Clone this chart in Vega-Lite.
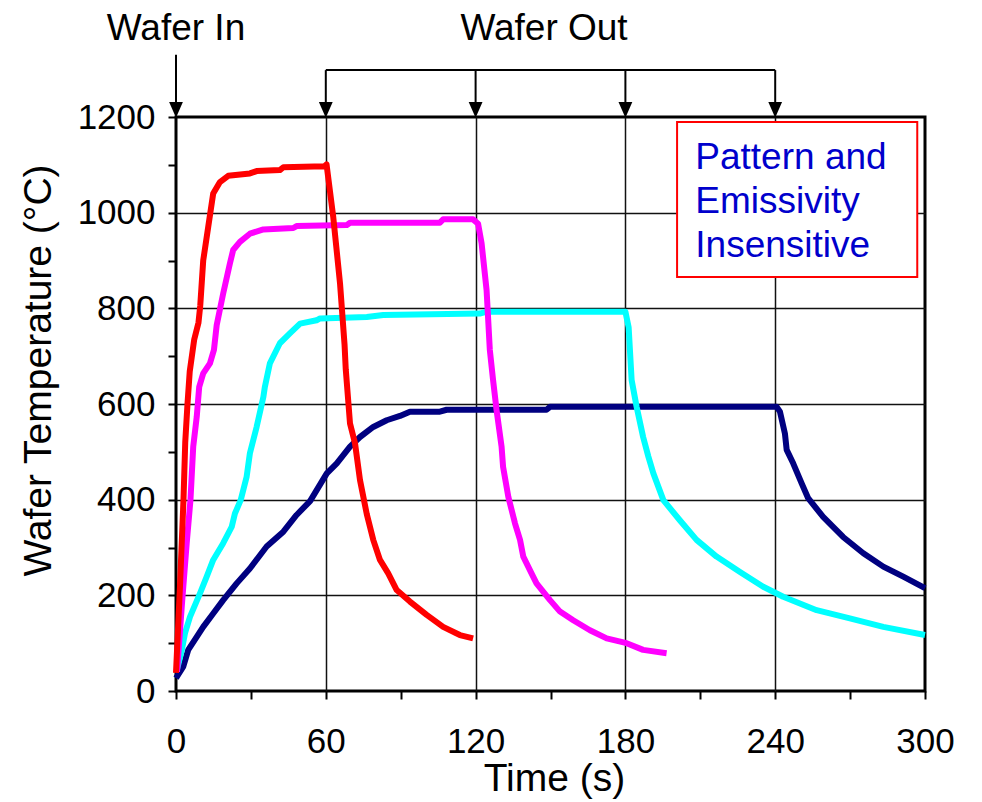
{
  "$schema": "https://vega.github.io/schema/vega-lite/v6.json",
  "width": 749,
  "height": 574,
  "autosize": {"type": "none"},
  "padding": {"left": 176, "top": 117, "right": 57, "bottom": 111},
  "background": "white",
  "config": {
    "view": {"stroke": "black", "strokeWidth": 3},
    "font": "Liberation Sans",
    "axis": {
      "labelFont": "Liberation Sans",
      "labelFontSize": 35,
      "labelColor": "black",
      "titleFont": "Liberation Sans",
      "titleFontSize": 39,
      "titleFontWeight": "normal",
      "titleColor": "black",
      "tickColor": "black",
      "tickWidth": 2,
      "tickSize": 8,
      "domain": false,
      "gridColor": "#111111",
      "gridWidth": 1.5,
      "labelOverlap": false,
      "labelBound": false,
      "labelFlush": false
    }
  },
  "datasets": {
    "profiles": [
      {"t": 0, "T": 27, "run": "590"}, {"t": 2.9, "T": 51, "run": "590"}, {"t": 4.9, "T": 86, "run": "590"}, {"t": 8.3, "T": 113, "run": "590"},
      {"t": 10.9, "T": 134, "run": "590"}, {"t": 14.9, "T": 162, "run": "590"}, {"t": 18.9, "T": 190, "run": "590"}, {"t": 24.3, "T": 225, "run": "590"},
      {"t": 29.6, "T": 256, "run": "590"}, {"t": 36.3, "T": 302, "run": "590"}, {"t": 43, "T": 333, "run": "590"}, {"t": 48.3, "T": 368, "run": "590"},
      {"t": 53.7, "T": 397, "run": "590"}, {"t": 60.4, "T": 455, "run": "590"}, {"t": 64.4, "T": 476, "run": "590"}, {"t": 69.7, "T": 511, "run": "590"},
      {"t": 73.7, "T": 531, "run": "590"}, {"t": 79, "T": 552, "run": "590"}, {"t": 84.4, "T": 566, "run": "590"}, {"t": 89.7, "T": 575, "run": "590"},
      {"t": 93.7, "T": 584, "run": "590"}, {"t": 105.7, "T": 584, "run": "590"}, {"t": 108.4, "T": 588, "run": "590"}, {"t": 148.4, "T": 588, "run": "590"},
      {"t": 149.8, "T": 594, "run": "590"}, {"t": 240.6, "T": 594, "run": "590"}, {"t": 241.9, "T": 584, "run": "590"}, {"t": 243.9, "T": 538, "run": "590"},
      {"t": 244.6, "T": 504, "run": "590"}, {"t": 247.2, "T": 476, "run": "590"}, {"t": 250.6, "T": 434, "run": "590"}, {"t": 253.2, "T": 403, "run": "590"},
      {"t": 259.2, "T": 364, "run": "590"}, {"t": 267.2, "T": 322, "run": "590"}, {"t": 275.3, "T": 288, "run": "590"}, {"t": 283.3, "T": 260, "run": "590"},
      {"t": 291.3, "T": 239, "run": "590"}, {"t": 300, "T": 215, "run": "590"},

      {"t": 0.4, "T": 45, "run": "790"}, {"t": 2.3, "T": 85, "run": "790"}, {"t": 3.6, "T": 121, "run": "790"}, {"t": 5.6, "T": 155, "run": "790"},
      {"t": 9.6, "T": 204, "run": "790"}, {"t": 12.3, "T": 239, "run": "790"}, {"t": 14.9, "T": 274, "run": "790"}, {"t": 18.9, "T": 309, "run": "790"},
      {"t": 22.3, "T": 343, "run": "790"}, {"t": 23.6, "T": 371, "run": "790"}, {"t": 25.9, "T": 399, "run": "790"}, {"t": 28.3, "T": 448, "run": "790"},
      {"t": 29.6, "T": 497, "run": "790"}, {"t": 32.3, "T": 552, "run": "790"}, {"t": 35, "T": 615, "run": "790"}, {"t": 35.6, "T": 636, "run": "790"},
      {"t": 37.6, "T": 685, "run": "790"}, {"t": 41.6, "T": 727, "run": "790"}, {"t": 45.7, "T": 748, "run": "790"}, {"t": 49.7, "T": 768, "run": "790"},
      {"t": 56.3, "T": 775, "run": "790"}, {"t": 57.7, "T": 779, "run": "790"}, {"t": 76.4, "T": 782, "run": "790"}, {"t": 83, "T": 786, "run": "790"},
      {"t": 121.7, "T": 789, "run": "790"}, {"t": 124.4, "T": 793, "run": "790"}, {"t": 180, "T": 793, "run": "790"}, {"t": 181.3, "T": 760, "run": "790"},
      {"t": 182.5, "T": 650, "run": "790"}, {"t": 184.5, "T": 594, "run": "790"}, {"t": 187.1, "T": 531, "run": "790"}, {"t": 189.2, "T": 490, "run": "790"},
      {"t": 191.2, "T": 455, "run": "790"}, {"t": 195.2, "T": 399, "run": "790"}, {"t": 201.8, "T": 357, "run": "790"}, {"t": 208.5, "T": 316, "run": "790"},
      {"t": 216.5, "T": 281, "run": "790"}, {"t": 225.9, "T": 249, "run": "790"}, {"t": 235.2, "T": 218, "run": "790"}, {"t": 243.2, "T": 197, "run": "790"},
      {"t": 256.6, "T": 169, "run": "790"}, {"t": 269.9, "T": 152, "run": "790"}, {"t": 283.3, "T": 134, "run": "790"}, {"t": 300, "T": 117, "run": "790"},

      {"t": 0.4, "T": 40, "run": "975"}, {"t": 2.5, "T": 190, "run": "975"}, {"t": 4.3, "T": 310, "run": "975"}, {"t": 5.8, "T": 400, "run": "975"},
      {"t": 6.9, "T": 511, "run": "975"}, {"t": 8.3, "T": 573, "run": "975"}, {"t": 9.3, "T": 636, "run": "975"}, {"t": 10.9, "T": 664, "run": "975"},
      {"t": 13.6, "T": 685, "run": "975"}, {"t": 15.2, "T": 713, "run": "975"}, {"t": 16.3, "T": 765, "run": "975"}, {"t": 18.9, "T": 831, "run": "975"},
      {"t": 21.6, "T": 894, "run": "975"}, {"t": 22.9, "T": 922, "run": "975"}, {"t": 25.6, "T": 939, "run": "975"}, {"t": 29.6, "T": 956, "run": "975"},
      {"t": 35, "T": 965, "run": "975"}, {"t": 47, "T": 968, "run": "975"}, {"t": 48.3, "T": 972, "run": "975"}, {"t": 68.4, "T": 974, "run": "975"},
      {"t": 69.7, "T": 979, "run": "975"}, {"t": 105.7, "T": 979, "run": "975"}, {"t": 107, "T": 986, "run": "975"}, {"t": 119, "T": 986, "run": "975"},
      {"t": 121, "T": 977, "run": "975"}, {"t": 122.4, "T": 936, "run": "975"}, {"t": 124.4, "T": 838, "run": "975"}, {"t": 125.7, "T": 713, "run": "975"},
      {"t": 127, "T": 650, "run": "975"}, {"t": 128.4, "T": 587, "run": "975"}, {"t": 130.4, "T": 511, "run": "975"}, {"t": 131, "T": 469, "run": "975"},
      {"t": 133.1, "T": 406, "run": "975"}, {"t": 135.8, "T": 350, "run": "975"}, {"t": 137.8, "T": 316, "run": "975"}, {"t": 139.1, "T": 281, "run": "975"},
      {"t": 142.4, "T": 246, "run": "975"}, {"t": 144.4, "T": 225, "run": "975"}, {"t": 149.8, "T": 190, "run": "975"}, {"t": 153.8, "T": 166, "run": "975"},
      {"t": 159.1, "T": 148, "run": "975"}, {"t": 165.8, "T": 127, "run": "975"}, {"t": 172.5, "T": 110, "run": "975"}, {"t": 180.5, "T": 100, "run": "975"},
      {"t": 187.1, "T": 86, "run": "975"}, {"t": 196.5, "T": 79, "run": "975"},

      {"t": 0, "T": 38, "run": "1100"}, {"t": 1.6, "T": 220, "run": "1100"}, {"t": 3.0, "T": 400, "run": "1100"}, {"t": 3.7, "T": 520, "run": "1100"},
      {"t": 4.6, "T": 600, "run": "1100"}, {"t": 5.5, "T": 668, "run": "1100"}, {"t": 7.3, "T": 735, "run": "1100"}, {"t": 9.0, "T": 770, "run": "1100"},
      {"t": 9.7, "T": 805, "run": "1100"}, {"t": 10.9, "T": 900, "run": "1100"}, {"t": 12.9, "T": 970, "run": "1100"}, {"t": 14.9, "T": 1040, "run": "1100"},
      {"t": 17.6, "T": 1064, "run": "1100"}, {"t": 20.9, "T": 1077, "run": "1100"}, {"t": 29.6, "T": 1082, "run": "1100"}, {"t": 32.3, "T": 1087, "run": "1100"},
      {"t": 41.6, "T": 1089, "run": "1100"}, {"t": 43, "T": 1095, "run": "1100"}, {"t": 59.5, "T": 1097, "run": "1100"}, {"t": 60.3, "T": 1101, "run": "1100"},
      {"t": 63, "T": 990, "run": "1100"}, {"t": 65.7, "T": 852, "run": "1100"}, {"t": 67.5, "T": 725, "run": "1100"}, {"t": 68, "T": 672, "run": "1100"},
      {"t": 69.7, "T": 559, "run": "1100"}, {"t": 71.7, "T": 518, "run": "1100"}, {"t": 73.7, "T": 441, "run": "1100"}, {"t": 76.4, "T": 370, "run": "1100"},
      {"t": 79, "T": 316, "run": "1100"}, {"t": 81.7, "T": 274, "run": "1100"}, {"t": 85, "T": 246, "run": "1100"}, {"t": 88.4, "T": 211, "run": "1100"},
      {"t": 93.7, "T": 187, "run": "1100"}, {"t": 100.4, "T": 159, "run": "1100"}, {"t": 107, "T": 134, "run": "1100"}, {"t": 113.7, "T": 117, "run": "1100"},
      {"t": 119, "T": 110, "run": "1100"}
    ],
    "events": [
      {"t": 0, "event": "in"},
      {"t": 60, "event": "out"},
      {"t": 120, "event": "out"},
      {"t": 180, "event": "out"},
      {"t": 240, "event": "out"}
    ],
    "single": [{}]
  },
  "layer": [
    {
      "data": {"name": "profiles"},
      "mark": {"type": "line", "strokeWidth": 6, "strokeJoin": "round"},
      "encoding": {
        "x": {
          "field": "t", "type": "quantitative",
          "scale": {"domain": [0, 300], "nice": false},
          "axis": {
            "values": [0, 30, 60, 90, 120, 150, 180, 210, 240, 270, 300],
            "format": "d",
            "labelExpr": "datum.value % 60 === 0 ? datum.label : ''",
            "labelPadding": 25,
            "labelBaseline": "top",
            "gridOpacity": {"condition": {"test": "datum.value % 60 === 0 && datum.value > 0 && datum.value < 300", "value": 1}, "value": 0},
            "title": "Time (s)",
            "titleX": 378,
            "titleY": 99,
            "titleAlign": "center",
            "titleBaseline": "alphabetic"
          }
        },
        "y": {
          "field": "T", "type": "quantitative",
          "scale": {"domain": [0, 1200], "nice": false},
          "axis": {
            "values": [0, 50, 100, 150, 200, 250, 300, 350, 400, 450, 500, 550, 600, 650, 700, 750, 800, 850, 900, 950, 1000, 1050, 1100, 1150, 1200],
            "format": "d",
            "labelExpr": "datum.value % 200 === 0 ? datum.label : ''",
            "labelPadding": 13,
            "gridOpacity": {"condition": {"test": "datum.value % 200 === 0 && datum.value > 0 && datum.value < 1200", "value": 1}, "value": 0},
            "title": "Wafer Temperature (°C)",
            "titleAngle": -90,
            "titleX": -126,
            "titleY": 253,
            "titleAlign": "center",
            "titleBaseline": "alphabetic"
          }
        },
        "color": {
          "field": "run", "type": "nominal",
          "scale": {"domain": ["590", "790", "975", "1100"], "range": ["#000080", "#00FFFF", "#FF00FF", "#FF0000"]},
          "legend": null
        },
        "strokeWidth": {
          "field": "run", "type": "nominal",
          "scale": {"domain": ["590", "790", "975", "1100"], "range": [6, 6, 6, 7]},
          "legend": null
        }
      }
    },
    {
      "data": {"name": "events"},
      "transform": [{"filter": "datum.event === 'in'"}],
      "mark": {"type": "rule", "color": "black", "strokeWidth": 2},
      "encoding": {
        "x": {"field": "t", "type": "quantitative"},
        "y": {"datum": 1226, "type": "quantitative"},
        "y2": {"datum": 1330}
      }
    },
    {
      "data": {"name": "events"},
      "transform": [{"filter": "datum.event === 'out'"}],
      "mark": {"type": "rule", "color": "black", "strokeWidth": 2},
      "encoding": {
        "x": {"field": "t", "type": "quantitative"},
        "y": {"datum": 1226, "type": "quantitative"},
        "y2": {"datum": 1298}
      }
    },
    {
      "data": {"name": "single"},
      "mark": {"type": "rule", "color": "black", "strokeWidth": 2},
      "encoding": {
        "x": {"datum": 60, "type": "quantitative"},
        "x2": {"datum": 240},
        "y": {"datum": 1298, "type": "quantitative"}
      }
    },
    {
      "data": {"name": "events"},
      "mark": {"type": "point", "shape": "M-1,-1.15L1,-1.15L0,1.15Z", "filled": true, "color": "black", "opacity": 1, "size": 190},
      "encoding": {
        "x": {"field": "t", "type": "quantitative"},
        "y": {"datum": 1215, "type": "quantitative"}
      }
    },
    {
      "data": {"name": "single"},
      "mark": {"type": "text", "text": "Wafer In", "font": "Liberation Sans", "fontSize": 37, "color": "black", "align": "center", "baseline": "alphabetic"},
      "encoding": {
        "x": {"datum": 0, "type": "quantitative"},
        "y": {"datum": 1361, "type": "quantitative"}
      }
    },
    {
      "data": {"name": "single"},
      "mark": {"type": "text", "text": "Wafer Out", "font": "Liberation Sans", "fontSize": 37, "color": "black", "align": "center", "baseline": "alphabetic"},
      "encoding": {
        "x": {"datum": 147.4, "type": "quantitative"},
        "y": {"datum": 1361, "type": "quantitative"}
      }
    },
    {
      "data": {"name": "single"},
      "mark": {"type": "rect", "fill": "white", "stroke": "#FF0000", "strokeWidth": 2},
      "encoding": {
        "x": {"datum": 200.7, "type": "quantitative"},
        "x2": {"datum": 296.9},
        "y": {"datum": 1189.5, "type": "quantitative"},
        "y2": {"datum": 865.5}
      }
    },
    {
      "data": {"name": "single"},
      "mark": {"type": "text", "text": ["Pattern and", "Emissivity", "Insensitive"], "lineHeight": 44, "font": "Liberation Sans", "fontSize": 37, "color": "#0000CC", "align": "left", "baseline": "alphabetic"},
      "encoding": {
        "x": {"datum": 208, "type": "quantitative"},
        "y": {"datum": 1090.7, "type": "quantitative"}
      }
    }
  ]
}
